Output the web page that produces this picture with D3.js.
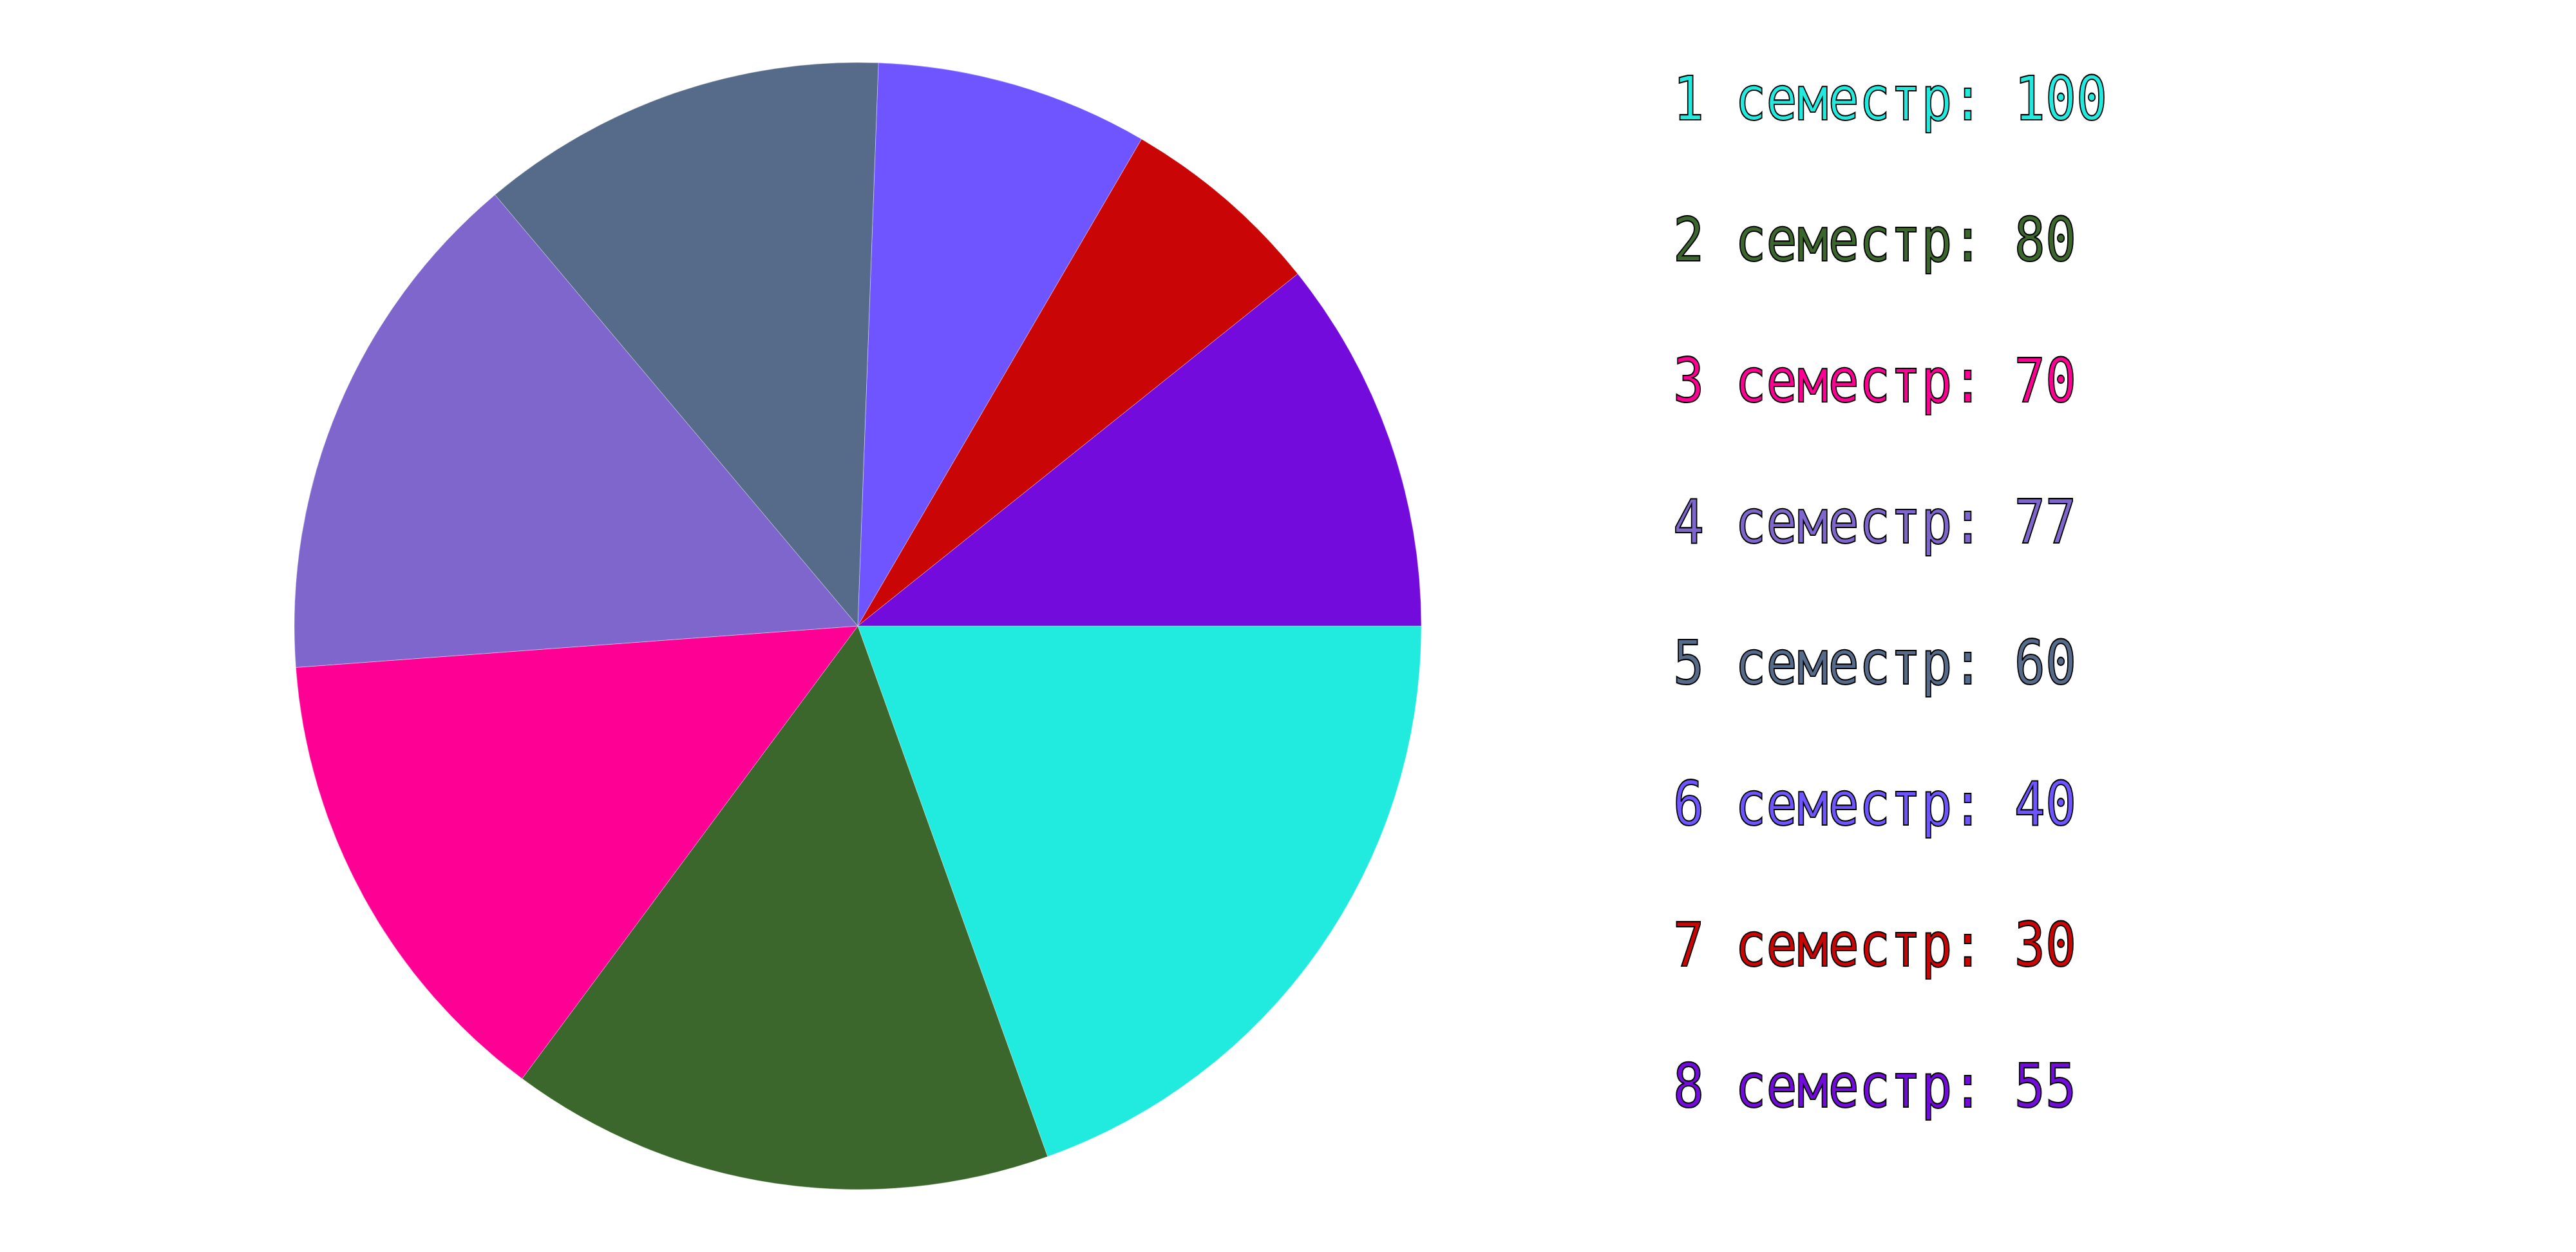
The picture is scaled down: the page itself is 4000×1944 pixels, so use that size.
<!DOCTYPE html>
<html lang="en">
<head>
	<meta charset="utf-8">
	<title>Семестры</title>
	<script src="https://d3js.org/d3.v7.min.js"></script>
	<style type="text/css">
		body { margin: 0; background: #fff; }
	</style>
</head>
<body>
	<script type="text/javascript">
		// datos
		var labels = ["1 семестр", "2 семестр", "3 семестр", "4 семестр",
			"5 семестр", "6 семестр", "7 семестр", "8 семестр"];
		var values = [100, 80, 70, 77, 60, 40, 30, 55];
		var colors = ["#21ebdf", "#3c672c", "#ff0094", "#7f66cc",
			"#566b8a", "#6e55ff", "#c90505", "#720bdb"];

		var w = 4000;
		var h = 1944;
		var cx = 1332;
		var cy = 972;
		var r = 875;

		var dataset = labels.map(function (l, i) {
			return { label: l, value: values[i] };
		});

		var color = d3.scaleOrdinal().domain(labels).range(colors);

		// empieza a las 3 en punto, sentido horario
		var pie = d3.pie()
			.sort(null)
			.startAngle(0.5 * Math.PI)
			.endAngle(2.5 * Math.PI)
			.value(function (d) { return d.value; });

		var arc = d3.arc()
			.innerRadius(0)
			.outerRadius(r);

		var svg = d3.select("body")
			.append("svg")
			.attr("width", w)
			.attr("height", h);

		svg.append("g")
			.attr("transform", "translate(" + cx + "," + cy + ")")
			.selectAll("path")
			.data(pie(dataset))
			.enter()
			.append("path")
			.attr("fill", function (d) { return color(d.data.label); })
			.attr("stroke", "rgba(255,255,255,0.35)")
			.attr("stroke-width", 1)
			.attr("d", arc);

		// leyenda
		var y = d3.scaleBand()
			.domain(labels)
			.range([0, 219 * labels.length]);

		var legend = svg.append("g")
			.attr("transform", "translate(2598,186)");

		// fuente algo más alta que ancha
		legend.selectAll("text")
			.data(dataset)
			.enter()
			.append("text")
			.attr("transform", function (d) {
				return "translate(0," + y(d.label) + ") scale(1,1.18)";
			})
			.attr("font-family", "DejaVu Sans Mono")
			.attr("font-size", 80)
			.attr("fill", function (d) { return color(d.label); })
			.attr("stroke", "#000")
			.attr("stroke-width", 1.8)
			.text(function (d) { return d.label + ": " + d.value; });
	</script>
</body>
</html>
